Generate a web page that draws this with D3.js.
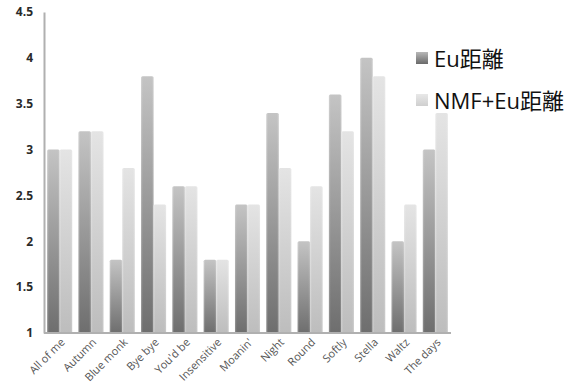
<!DOCTYPE html>
<html>
<head>
<meta charset="utf-8">
<script src="https://cdn.jsdelivr.net/npm/d3@7"></script>
<style>
  html, body { margin: 0; padding: 0; background: #fff; }
  svg { display: block; }
</style>
</head>
<body>
<svg id="chart" width="576" height="392"></svg>
<script>
// Song titles along the x axis
const categories = ["All of me", "Autumn", "Blue monk", "Bye bye", "You'd be", "Insensitive",
  "Moanin'", "Night", "Round", "Softly", "Stella", "Waltz", "The days"];
// Scores for each distance measure
const euValues = [3.0, 3.2, 1.8, 3.8, 2.6, 1.8, 2.4, 3.4, 2.0, 3.6, 4.0, 2.0, 3.0];
const nmfEuValues = [3.0, 3.2, 2.8, 2.4, 2.6, 1.8, 2.4, 2.8, 2.6, 3.2, 3.8, 2.4, 3.4];
const seriesNames = ["Eu距離", "NMF+Eu距離"];
const yTicks = [1, 1.5, 2, 2.5, 3, 3.5, 4, 4.5];

const svg = d3.select("#chart");
const margin = { left: 44, right: 125, top: 12, bottom: 59 };
const W = 576, H = 392;

const x = d3.scaleBand().domain(categories)
  .range([margin.left, W - margin.right]).paddingInner(0.2).paddingOuter(0.1);
const xs = d3.scaleBand().domain(seriesNames).range([0, x.bandwidth()]);
const y = d3.scaleLinear().domain([1, 4.5]).range([H - margin.bottom, margin.top]);

// Gradients for the bar fills
const defs = svg.append("defs");
function grad(id, stops) {
  const g = defs.append("linearGradient").attr("id", id)
    .attr("x1", 0).attr("y1", 0).attr("x2", 0).attr("y2", 1);
  stops.forEach(([o, c]) => g.append("stop").attr("offset", o).attr("stop-color", c));
}
grad("gEu", [[0, "#c4c4c4"], [1, "#6e6e6e"]]);
grad("gNmf", [[0, "#e4e4e4"], [1, "#bdbdbd"]]);
grad("lEu", [[0, "#b8b8b8"], [1, "#6a6a6a"]]);
grad("lNmf", [[0, "#e8e8e8"], [1, "#cfcfcf"]]);

// Horizontal sheen across each bar
const sheen = defs.append("linearGradient").attr("id", "sheen")
  .attr("x1", 0).attr("y1", 0).attr("x2", 1).attr("y2", 0);
[[0, 0.25], [0.15, 0], [0.85, 0], [1, 0.2]].forEach(([o, a]) =>
  sheen.append("stop").attr("offset", o).attr("stop-color", "#fff").attr("stop-opacity", a));

const series = [
  { name: seriesNames[0], values: euValues, fill: "url(#gEu)", legend: "url(#lEu)" },
  { name: seriesNames[1], values: nmfEuValues, fill: "url(#gNmf)", legend: "url(#lNmf)" }
];

// Bars
series.forEach(s => {
  const g = svg.append("g");
  g.selectAll("rect.bar").data(categories).join("rect").attr("class", "bar")
    .attr("x", d => x(d) + xs(s.name))
    .attr("y", (d, i) => y(s.values[i]))
    .attr("width", xs.bandwidth())
    .attr("height", (d, i) => y(1) - y(s.values[i]))
    .attr("rx", 1.5)
    .attr("fill", s.fill);
  g.selectAll("rect.sh").data(categories).join("rect").attr("class", "sh")
    .attr("x", d => x(d) + xs(s.name))
    .attr("y", (d, i) => y(s.values[i]))
    .attr("width", xs.bandwidth())
    .attr("height", (d, i) => y(1) - y(s.values[i]))
    .attr("fill", "url(#sheen)");
});

// Y axis
const yAxis = d3.axisLeft(y).tickValues(yTicks).tickSize(0).tickPadding(11)
  .tickFormat(d => d);
const yg = svg.append("g").attr("transform", `translate(${margin.left},0)`).call(yAxis);
yg.select(".domain").attr("stroke", "#b0b0b0").attr("stroke-width", 2);
yg.selectAll("text").attr("font-family", "'Open Sans', 'DejaVu Sans', sans-serif")
  .attr("font-size", 12).attr("font-weight", 700).attr("fill", "#2a2a2a");

// X axis
const xAxis = d3.axisBottom(x).tickSize(0).tickPadding(0);
const xg = svg.append("g").attr("transform", `translate(0,${y(1)})`).call(xAxis);
xg.select(".domain").attr("stroke", "#b0b0b0").attr("stroke-width", 2)
  .attr("d", `M${margin.left},0H${W - margin.right}`);
xg.selectAll("text")
  .attr("font-family", "'Open Sans', 'DejaVu Sans', sans-serif")
  .attr("font-size", 11).attr("fill", "#555")
  .attr("text-anchor", "end").attr("dy", 0).attr("y", 0)
  .attr("transform", "translate(6,10) rotate(-45)");

// Legend
const lg = svg.append("g");
series.forEach((s, i) => {
  const ly = 52 + i * 42;
  lg.append("rect").attr("x", 416).attr("y", ly).attr("width", 12).attr("height", 12)
    .attr("fill", s.legend);
  lg.append("text").attr("x", 434).attr("y", ly + 14.5)
    .attr("font-family", "'Open Sans', 'Noto Sans CJK JP', sans-serif")
    .attr("font-size", 22).attr("fill", "#111").text(s.name);
});
</script>
</body>
</html>
